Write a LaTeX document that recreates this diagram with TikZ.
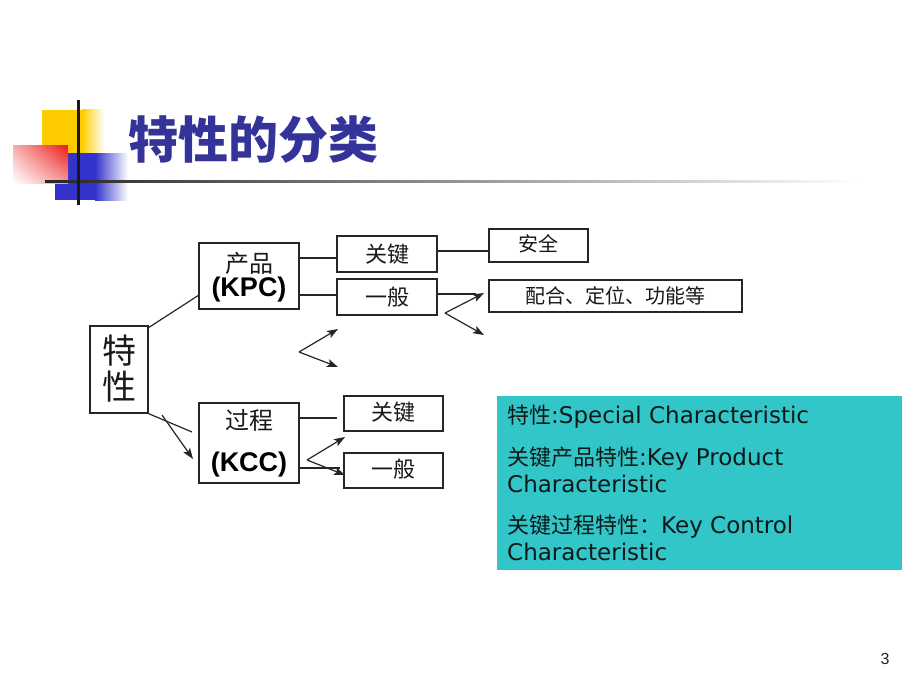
\documentclass[tikz,border=0pt]{standalone}
\usepackage{fontspec}
\usetikzlibrary{arrows.meta,shadings}
\newfontfamily\cjk{Noto Sans CJK SC}
\newfontfamily\vsans{DejaVu Sans}
\newfontfamily\arl{Liberation Sans}
\definecolor{teal2}{RGB}{51,198,200}
\definecolor{ttl}{RGB}{51,51,153}
\definecolor{ylw}{RGB}{255,204,0}
\definecolor{blu}{RGB}{51,51,204}
\definecolor{rd}{RGB}{235,25,25}
\definecolor{ink}{RGB}{15,25,25}
\begin{document}
\begin{tikzpicture}[x=1pt,y=-1pt,
  box/.style={draw=black!85, line width=1.3pt, inner sep=0pt, fill=white},
  ln/.style={draw=black!85, line width=1.2pt},
  arr/.style={ln, -{Stealth[length=11pt,width=8pt,inset=2.5pt]}},
  cj/.style={inner sep=0pt, font=\cjk\fontsize{#1}{#1}\selectfont, text=black!90},
  kp/.style={inner sep=0pt, font=\arl\bfseries\fontsize{27}{27}\selectfont, text=black},
  tl/.style={inner sep=0pt, anchor=base west, font=\fontsize{22}{22}\selectfont, text=ink},
]
\useasboundingbox (0,0) rectangle (920,690);
\fill[white] (0,0) rectangle (920,690);

% title decoration
\fill[ylw] (42,110) rectangle (82,153);
\shade[left color=ylw, right color=white] (82,110) rectangle (104,153);
\fill[blu] (55,153) rectangle (95,200);
\shade[left color=blu, right color=white] (95,153) rectangle (128,200);
\shade[upper left=rd!35, upper right=rd, lower left=white, lower right=rd!45] (13,145) rectangle (68,183);
\shade[left color=black!85, right color=white] (45,180) rectangle (860,182.5);
\fill[black!90] (77,100) rectangle (79.5,205);
\node[inner sep=0pt, font=\cjk\bfseries\fontsize{50}{50}\selectfont, text=ttl] (title) at (253,140) {特性的分类};

% tree boxes
\node[box, minimum width=58pt, minimum height=87pt] (tx) at (119,369.5) {};
\node[cj=34] (tx1) at (119,351) {特};
\node[cj=34] (tx2) at (119,387) {性};

\node[box, minimum width=100pt, minimum height=66pt] (kpc) at (249,276) {};
\node[cj=24] (kpc1) at (249,263) {产品};
\node[kp] (kpc2) at (249,290) {(KPC)};

\node[box, minimum width=100pt, minimum height=36pt] (gj1) at (387,254) {};
\node[cj=22] (gj1t) at (387,254) {关键};
\node[box, minimum width=100pt, minimum height=36pt] (yb1) at (387,297) {};
\node[cj=22] (yb1t) at (387,297) {一般};

\node[box, minimum width=99pt, minimum height=33pt] (aq) at (538.5,245.5) {};
\node[cj=20] (aqt) at (538.5,244) {安全};
\node[box, minimum width=253pt, minimum height=32pt] (ph) at (615.5,296) {};
\node[cj=20] (pht) at (615.5,296) {配合、定位、功能等};

\node[box, minimum width=100pt, minimum height=80pt] (kcc) at (249,443) {};
\node[cj=24] (kcc1) at (249,420) {过程};
\node[kp] (kcc2) at (249,465) {(KCC)};

\node[box, minimum width=99pt, minimum height=35pt] (gj2) at (393.5,413.5) {};
\node[cj=22] (gj2t) at (393.5,412) {关键};
\node[box, minimum width=99pt, minimum height=35pt] (yb2) at (393.5,470.5) {};
\node[cj=22] (yb2t) at (393.5,469) {一般};

% connectors
\coordinate (c1) at (199,295);
\draw[ln] (148,328) -- (c1);
\draw[ln] (kpc.east |- 0,258) -- (gj1.west |- 0,258);
\draw[ln] (kpc.east |- 0,295) -- (yb1.west |- 0,295);
\draw[ln] (gj1.east |- 0,251) -- (aq.west |- 0,251);
\draw[ln] (yb1.east |- 0,294) -- (476,294);
\coordinate (f1) at (445,313);
\draw[arr] (f1) -- (484,293);
\draw[arr] (f1) -- (484,335);

\coordinate (f2) at (299,352);
\draw[arr] (f2) -- (338,329);
\draw[arr] (f2) -- (338,367);

\coordinate (c2) at (192,432);
\draw[ln] (tx.south east) -- (c2);
\draw[arr] (162,415) -- (193,459);

\draw[ln] (kcc.east |- 0,418) -- (337,418);
\draw[ln] (kcc.east |- 0,468) -- (340,468);
\coordinate (f3) at (307,460);
\draw[arr] (f3) -- (345,437);
\draw[arr] (f3) -- (345,475);

% teal legend
\fill[teal2] (497,396) rectangle (902,570);
\node[tl] (l1) at (507,423) {{\cjk 特性}{\vsans\fontsize{23}{23}\selectfont :Special Characteristic}};
\node[tl] (l2) at (507,465) {{\cjk 关键产品特性}{\vsans\fontsize{23}{23}\selectfont :Key Product}};
\node[tl] (l3) at (507,492) {{\vsans\fontsize{23}{23}\selectfont Characteristic}};
\node[tl] (l4) at (507,533) {{\cjk 关键过程特性：}{\vsans\fontsize{23}{23}\selectfont Key Control}};
\node[tl] (l5) at (507,560) {{\vsans\fontsize{23}{23}\selectfont Characteristic}};

% page number
\node[inner sep=0pt, font=\arl\fontsize{16}{16}\selectfont, text=black!85] (pg) at (885,659) {3};
\end{tikzpicture}
\end{document}
